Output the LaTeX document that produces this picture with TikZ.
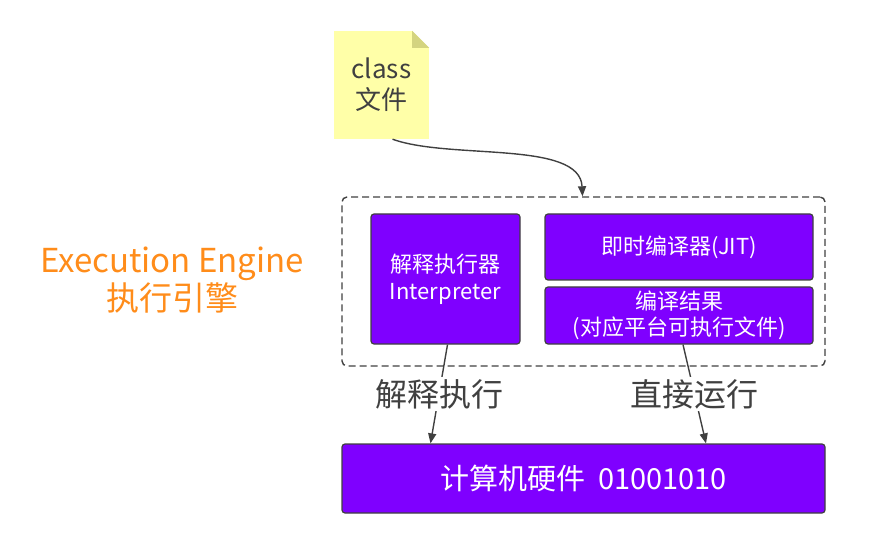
\documentclass[tikz,border=0pt]{standalone}
\usepackage{fontspec}
\setmainfont{Noto Sans CJK SC}
\usetikzlibrary{arrows.meta,calc}
\usepackage{xcolor}

\definecolor{engine}{HTML}{7F00FF}
\definecolor{notey}{HTML}{FFFFA8}
\definecolor{notefold}{HTML}{D4D480}
\definecolor{ink}{HTML}{404040}
\definecolor{engorange}{HTML}{FF8C1A}

\begin{document}
\begin{tikzpicture}[x=1pt,y=-1pt,
    block/.style={draw=ink, line width=1.2pt, fill=engine, rounded corners=3pt,
      text=white, inner sep=0pt, align=center, font=\fontsize{22}{27}\selectfont},
    flow/.style={draw=ink, line width=1.4pt, -{Triangle[length=10pt,width=8pt]}},
    via/.style={fill=white, inner sep=2pt, text=ink, font=\fontsize{32}{36}\selectfont}]
  \useasboundingbox (0,0) rectangle (877,534);

  % class file note
  \node[fill=notey, minimum width=95, minimum height=108, inner sep=0pt, align=center,
        text=ink, font=\fontsize{26}{31}\selectfont] (class) at (381.5,85) {class\\文件};
  \fill[white] (class.north east) -- ++(-17,0) -- ++(17,17) -- cycle;
  \fill[notefold] ($(class.north east)+(-17,0)$) -- ++(17,17) -- ++(-17,0) -- cycle;

  % execution engine
  \node[draw=ink, dashed, dash pattern=on 7pt off 4pt, line width=1.4pt, rounded corners=5pt,
        minimum width=483, minimum height=169, inner sep=0pt] (engine) at (583.5,281.5) {};
  \node[text=engorange, align=center, font=\fontsize{33}{38}\selectfont] (title) at (172,280)
    {Execution Engine\\执行引擎};

  \node[block, minimum width=149, minimum height=130] (interp) at (445.5,279) {解释执行器\\Interpreter};
  \node[block, minimum width=268, minimum height=66] (jit) at (679,247) {即时编译器(JIT)};
  \node[block, minimum width=268, minimum height=57, font=\fontsize{22}{26}\selectfont] (result)
    at (679,315.5) {编译结果\\(对应平台可执行文件)};

  % hardware
  \node[block, minimum width=483, minimum height=69, font=\fontsize{29}{32}\selectfont] (hw)
    at (583.5,478.5) {计算机硬件\ \ 01001010};

  % arrows
  \draw[flow] ($(class.south)+(11,0)$) .. controls (450,160) and (580,140) .. ($(engine.north)+(-1,0)$);
  \draw[flow] ([xshift=2]interp.south) -- node[via] {解释执行} ([xshift=-15]interp.south |- hw.north);
  \draw[flow] ([xshift=4]result.south) -- node[via] {直接运行} ([xshift=27]result.south |- hw.north);
\end{tikzpicture}
\end{document}
